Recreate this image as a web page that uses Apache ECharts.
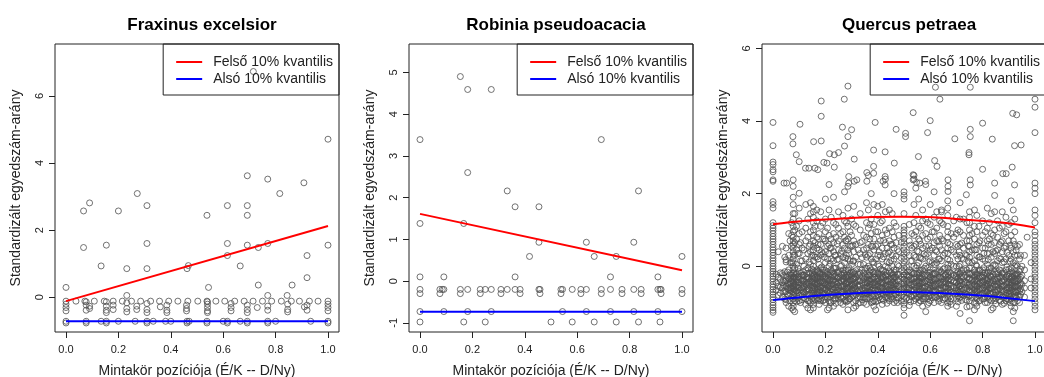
<!DOCTYPE html>
<html>
<head>
<meta charset="utf-8">
<script src="https://cdn.jsdelivr.net/npm/echarts@6/dist/echarts.min.js"></script>
<style>html,body{margin:0;padding:0;background:#fff;}#c{width:1044px;height:377px;}</style>
</head>
<body>
<div id="c"></div>
<script>
// ---------- DATA ----------
const titles = ['Fraxinus excelsior', 'Robinia pseudoacacia', 'Quercus petraea'];
const xAxisTitle = 'Mintakör pozíciója (É/K -- D/Ny)';
const yAxisTitle = 'Standardizált egyedszám-arány';
const legendNames = ['Felső 10% kvantilis', 'Alsó 10% kvantilis'];
const xTicks = [0, 0.2, 0.4, 0.6, 0.8, 1.0];
const fxYTicks = [0, 2, 4, 6];
const rpYTicks = [-1, 0, 1, 2, 3, 4, 5];
const qpYTicks = [0, 2, 4, 6];

// Fraxinus excelsior points
const fxPoints = [
 [0.715,6.73],[1.0,4.71],[0.692,3.62],[0.77,3.52],[0.908,3.41],[0.272,3.09],[0.816,3.09],[0.09,2.81],
 [0.309,2.73],[0.616,2.73],[0.692,2.73],[0.067,2.57],[0.2,2.57],[0.538,2.44],[0.692,2.44],[0.067,1.48],
 [0.154,1.55],[0.309,1.6],[0.616,1.6],[0.692,1.55],[0.734,1.48],[0.77,1.6],[1.0,1.55],[0.134,0.93],
 [0.616,1.24],[0.92,1.24],[0.232,0.85],[0.309,0.85],[0.462,0.85],[0.467,0.94],[0.665,0.93],[0.92,0.58],
 [0.734,0.36],[0.863,0.36],[0.0,0.29],[0.544,0.29],[0.232,0.05],[0.77,0.05],[0.844,0.05],
 [0,-0.12],[0.038,-0.12],[0.072,-0.12],[0.108,-0.12],[0.146,-0.12],[0.18,-0.12],[0.215,-0.12],[0.25,-0.12],
 [0.285,-0.12],[0.323,-0.12],[0.357,-0.12],[0.392,-0.12],[0.427,-0.12],[0.465,-0.12],[0.503,-0.12],[0.538,-0.12],
 [0.572,-0.12],[0.606,-0.12],[0.644,-0.12],[0.68,-0.12],[0.714,-0.12],[0.75,-0.12],[0.785,-0.12],[0.822,-0.12],
 [0.86,-0.12],[0.891,-0.12],[0.929,-0.12],[0.962,-0.12],[1.0,-0.12],
 [0,-0.21],[0,-0.31],[0,-0.41],[0.077,-0.14],[0.077,-0.24],[0.077,-0.39],[0.09,-0.27],[0.09,-0.34],
 [0.154,-0.14],[0.154,-0.27],[0.154,-0.39],[0.154,-0.46],[0.18,-0.24],[0.18,-0.37],[0.232,-0.17],[0.232,-0.34],
 [0.232,-0.44],[0.27,-0.27],[0.27,-0.37],[0.309,-0.19],[0.309,-0.37],[0.309,-0.46],[0.36,-0.29],[0.385,-0.24],
 [0.385,-0.39],[0.385,-0.46],[0.46,-0.24],[0.46,-0.34],[0.46,-0.41],[0.54,-0.14],[0.54,-0.21],[0.54,-0.31],
 [0.54,-0.41],[0.54,-0.46],[0.63,-0.19],[0.63,-0.31],[0.63,-0.41],[0.692,-0.24],[0.692,-0.37],[0.692,-0.46],
 [0.73,-0.31],[0.77,-0.27],[0.77,-0.39],[0.846,-0.21],[0.846,-0.37],[0.846,-0.44],[0.91,-0.29],[0.92,-0.24],
 [0.92,-0.39],[1.0,-0.21],[1.0,-0.31],[1.0,-0.41],
 [0,-0.72],[0.077,-0.72],[0.134,-0.72],[0.154,-0.72],[0.2,-0.72],[0.264,-0.72],[0.309,-0.72],[0.333,-0.72],
 [0.38,-0.72],[0.4,-0.72],[0.462,-0.72],[0.47,-0.72],[0.538,-0.72],[0.6,-0.72],[0.616,-0.72],[0.665,-0.72],
 [0.692,-0.72],[0.77,-0.72],[0.8,-0.72],[0.934,-0.72],[1.0,-0.72],
 [0,-0.77],[0.077,-0.77],[0.154,-0.77],[0.309,-0.77],[0.462,-0.77],[0.538,-0.77],[0.616,-0.77],[0.692,-0.77],
 [0.77,-0.77],[1.0,-0.77]
];
const fxUpper = [[0, -0.12], [1, 2.12]];
const fxLower = [[0, -0.72], [1, -0.72]];

// Robinia pseudoacacia points
const rpPoints = [
 [0.154,4.9],[0.182,4.59],[0.272,4.59],[0,3.39],[0.692,3.39],[0.182,2.6],[0.333,2.16],[0.834,2.16],
 [0.363,1.78],[0.454,1.78],[0,1.38],[0.167,1.38],[0.454,0.93],[0.635,0.93],[0.816,0.93],[0.418,0.59],
 [0.665,0.59],[0.749,0.59],[1,0.59],[0,0.1],[0.091,0.1],[0.363,0.1],[0.727,0.1],[0.908,0.1],
 [0,-0.2],[0,-0.3],[0.076,-0.2],[0.076,-0.3],[0.154,-0.2],[0.154,-0.3],[0.23,-0.2],[0.23,-0.3],
 [0.309,-0.2],[0.309,-0.3],[0.382,-0.2],[0.382,-0.3],[0.458,-0.2],[0.458,-0.3],[0.538,-0.2],[0.538,-0.3],
 [0.614,-0.2],[0.614,-0.3],[0.692,-0.2],[0.692,-0.3],[0.771,-0.2],[0.771,-0.3],[0.844,-0.2],[0.844,-0.3],
 [0.92,-0.2],[0.92,-0.3],[1,-0.2],[1,-0.3],
 [0.085,-0.2],[0.091,-0.2],[0.182,-0.2],[0.249,-0.2],[0.272,-0.2],[0.333,-0.2],[0.363,-0.2],[0.454,-0.2],
 [0.544,-0.2],[0.581,-0.2],[0.635,-0.2],[0.727,-0.2],[0.816,-0.2],[0.908,-0.2],[0.916,-0.2],
 [0,-0.73],[0.091,-0.73],[0.182,-0.73],[0.272,-0.73],[0.544,-0.73],[0.635,-0.73],[0.727,-0.73],[0.816,-0.73],
 [0.908,-0.73],[1,-0.73],
 [0,-0.98],[0.167,-0.98],[0.249,-0.98],[0.5,-0.98],[0.581,-0.98],[0.665,-0.98],[0.749,-0.98],[0.834,-0.98],[0.916,-0.98]
];
const rpUpper = [[0, 1.61], [1, 0.26]];
const rpLower = [[0, -0.735], [1, -0.735]];

// Quercus petraea: high outliers
const qpHigh = [
 [0.286,4.96],[0.272,4.6],[0.184,4.55],[0.184,4.13],[0,3.96],[0.103,3.91],[0.265,3.83],[0.3,3.76],
 [0.39,3.96],[0.535,4.23],[0.6,4.01],[0.637,4.6],[0.62,4.93],[0.753,4.93],[0.506,3.66],[0.506,3.57],
 [0.47,3.77],[0.59,3.68],[0.694,3.51],[0.753,3.77],[0.753,3.57],[0.8,3.94],[0.837,3.5],[0.915,4.21],
 [0.93,4.17],[1.0,4.6],[1.0,4.38],[1.0,3.68],[0,3.32],[0.076,3.57],[0.076,3.37],[0.089,3.07],[0.1,2.88],
 [0.155,3.43],[0.184,3.45],[0.273,3.31],[0.286,3.57],[0.216,3.1],[0.234,3.07],[0.25,3.13],[0.31,2.95],
 [0.384,3.2],[0.428,3.15],[0.555,3.02],[0.617,2.91],[0.626,2.75],[0.748,3.13],[0.748,3.07],[0.8,2.67],
 [0.922,3.32],[0.947,3.34],[0.877,2.55],[0.913,2.73],[0,2.87],[0,2.8],[0,2.66],[0,2.6],[0,2.38],[0,2.34],
 [0.042,2.29],[0.052,2.29],[0.077,2.38],[0.077,2.2],[0.194,2.86],[0.206,2.84],[0.124,2.7],[0.137,2.7],
 [0.16,2.7],[0.171,2.66],[0.234,2.73],[0.289,2.47],[0.289,2.29],[0.31,2.34],[0.32,2.38],[0.358,2.58],
 [0.358,2.34],[0.384,2.75],[0.384,2.56],[0.42,2.34],[0.428,2.47],[0.428,2.24],[0.463,2.84],[0.535,2.52],
 [0.535,2.38],[0.548,2.31],[0.56,2.29],[0.582,2.34],[0.668,2.38],[0.668,2.2],[0.668,2.06],[0.753,2.38],
 [0.753,2.24],[0.738,1.97],[0.846,2.29],[0.89,2.55],[0.922,2.24],[1.0,2.29],[1.0,2.15]
];
// Quercus petraea: columns of points (x position, then y values read per column)
const qpColX = [0, 0.05, 0.071, 0.077, 0.083, 0.1, 0.125, 0.143, 0.154, 0.167, 0.182, 0.2, 0.214, 0.222,
 0.231, 0.25, 0.267, 0.273, 0.286, 0.3, 0.308, 0.333, 0.357, 0.364, 0.375, 0.385, 0.4, 0.417, 0.429, 0.444,
 0.455, 0.462, 0.5, 0.538, 0.545, 0.556, 0.571, 0.583, 0.6, 0.615, 0.625, 0.636, 0.643, 0.667, 0.7, 0.714,
 0.727, 0.75, 0.769, 0.778, 0.8, 0.818, 0.833, 0.846, 0.857, 0.875, 0.889, 0.909, 0.917, 0.923, 0.933,
 0.95, 0.97, 1.0];
const qpColY = [
 [1.78,1.7,1.6,1.2,1.12,1.05,0.98,0.9,0.82,0.75,0.68,0.6,0.52,0.45,0.38,0.3,0.22,0.15,0.08,0.0,-0.07,-0.14,-0.21,-0.28,-0.35,-0.42,-0.5,-0.57,-0.64,-0.71,-0.78,-0.85,-0.92,-1.0,-1.07,-1.14,-1.21,-1.27],
 [0.5,0.18,0.12,-0.27,-0.4,-0.55,-0.7,-0.92,-1.0],
 [1.2,0.85,0.55,0.1,-0.25,-0.4,-0.6,-0.85,-1.15],
 [1.9,1.7,1.45,1.3,1.1,0.95,0.8,0.7,0.6,0.5,0.4,0.3,0.2,0.1,0.0,-0.1,-0.2,-0.3,-0.35,-0.45,-0.55,-0.62,-0.7,-0.8,-0.9,-1.0,-1.1,-1.2],
 [1.45,1.0,0.65,0.3,-0.05,-0.3,-0.5,-0.65,-0.95,-1.25],
 [2.01,1.6,1.25,0.9,0.6,0.35,-0.15,-0.3,-0.45,-0.6,-0.8,-0.95],
 [1.7,1.05,0.7,0.2,-0.1,-0.35,-0.5,-0.7,-0.9,-1.05],
 [1.75,1.45,0.95,0.6,0.4,0.05,-0.2,-0.4,-0.55,-0.75,-1.0,-1.2],
 [1.65,1.5,1.35,1.2,1.0,0.85,0.7,0.55,0.45,0.3,0.15,0.0,-0.12,-0.25,-0.35,-0.45,-0.55,-0.65,-0.75,-0.85,-0.95,-1.05,-1.15],
 [1.55,1.25,0.8,0.5,0.25,-0.1,-0.3,-0.5,-0.7,-0.88],
 [1.5,1.1,0.6,0.3,-0.05,-0.3,-0.45,-0.6,-0.8,-0.95],
 [1.85,1.3,0.95,0.7,0.4,0.1,-0.2,-0.35,-0.5,-0.65,-0.85,-1.0],
 [2.25,1.55,0.85,0.6,0.35,0.0,-0.25,-0.4,-0.55,-0.75,-0.95,-1.15],
 [1.35,0.75,0.5,0.2,-0.1,-0.3,-0.5,-0.62,-0.78,-1.0],
 [1.9,1.2,0.9,0.65,0.4,0.15,-0.05,-0.2,-0.38,-0.5,-0.65,-0.8,-0.95,-1.1],
 [1.5,1.05,0.7,0.45,0.2,-0.15,-0.3,-0.45,-0.6,-0.8,-0.9],
 [1.4,0.95,0.6,0.25,-0.1,-0.35,-0.55,-0.7,-0.85,-1.05],
 [2.05,1.25,0.8,0.5,0.1,-0.2,-0.4,-0.55,-0.75,-0.95],
 [2.2,1.6,1.1,0.75,0.45,0.2,-0.1,-0.3,-0.45,-0.6,-0.75,-0.95,-1.2],
 [1.3,0.85,0.55,0.05,-0.25,-0.5,-0.65,-0.85],
 [1.65,1.15,0.7,0.4,0.15,-0.15,-0.35,-0.5,-0.6,-0.8,-1.0,-1.15],
 [1.45,1.0,0.65,0.35,0.05,-0.2,-0.4,-0.55,-0.7,-0.85,-1.0],
 [1.75,1.2,0.8,0.5,0.25,-0.05,-0.3,-0.45,-0.6,-0.75,-0.9,-1.05],
 [2.5,1.55,1.05,0.6,0.3,0.0,-0.25,-0.4,-0.55,-0.7,-0.85],
 [2.0,1.3,0.9,0.55,0.2,-0.1,-0.35,-0.5,-0.65,-0.8,-1.0],
 [1.7,1.15,0.75,0.45,0.1,-0.15,-0.3,-0.45,-0.6,-0.75,-0.95,-1.1],
 [1.65,1.4,0.95,0.6,0.3,0.05,-0.2,-0.35,-0.5,-0.65,-0.8,-0.95],
 [1.7,1.25,0.85,0.5,0.2,-0.1,-0.3,-0.45,-0.6,-0.75,-0.9,-1.05],
 [2.4,1.5,1.0,0.65,0.35,0.0,-0.25,-0.4,-0.55,-0.7,-0.85],
 [1.55,1.05,0.7,0.4,0.1,-0.15,-0.35,-0.5,-0.65,-0.8,-0.95],
 [1.45,0.95,0.6,0.3,0.0,-0.25,-0.45,-0.6,-0.75,-0.9],
 [2.0,1.2,0.8,0.5,0.2,-0.1,-0.3,-0.5,-0.65,-0.8,-1.0],
 [2.05,1.95,1.85,1.45,1.1,1.0,0.92,0.85,0.75,0.65,0.55,0.45,0.35,0.25,0.15,0.05,-0.05,-0.15,-0.25,-0.35,-0.45,-0.55,-0.65,-0.75,-0.85,-0.95,-1.05,-1.15,-1.35],
 [2.5,2.4,1.7,1.2,0.85,0.55,0.3,0.0,-0.2,-0.35,-0.5,-0.65,-0.8,-0.95],
 [2.15,1.4,0.95,0.6,0.25,-0.05,-0.3,-0.45,-0.6,-0.75,-0.9],
 [1.85,1.1,0.75,0.4,0.1,-0.2,-0.4,-0.55,-0.7,-0.85,-1.0],
 [1.55,1.25,0.85,0.5,0.2,-0.1,-0.3,-0.45,-0.6,-0.75,-0.9,-1.1],
 [2.25,1.3,0.9,0.55,0.3,0.0,-0.25,-0.4,-0.55,-0.7,-0.85,-1.25],
 [1.7,1.15,0.8,0.45,0.15,-0.1,-0.3,-0.45,-0.6,-0.8,-0.95],
 [2.05,1.35,0.95,0.65,0.3,0.05,-0.2,-0.35,-0.5,-0.65,-0.8,-1.0],
 [1.5,1.05,0.7,0.4,0.1,-0.15,-0.35,-0.5,-0.7,-0.85],
 [1.25,0.85,0.55,0.2,-0.1,-0.3,-0.45,-0.6,-0.75,-0.9],
 [1.55,1.5,1.2,0.75,0.45,0.15,-0.15,-0.35,-0.5,-0.65,-0.8,-1.0],
 [1.8,1.6,1.4,1.1,0.95,0.8,0.65,0.5,0.35,0.2,0.05,-0.05,-0.2,-0.3,-0.4,-0.5,-0.6,-0.7,-0.8,-0.9,-1.0,-1.1],
 [1.35,0.9,0.6,0.3,0.0,-0.25,-0.45,-0.6,-0.75,-0.9,-1.1],
 [1.75,1.3,0.95,0.6,0.3,0.05,-0.2,-0.4,-0.55,-0.7,-0.85,-1.3],
 [1.3,0.85,0.5,0.2,-0.1,-0.3,-0.5,-0.65,-0.8],
 [1.5,1.35,1.2,1.0,0.85,0.7,0.55,0.4,0.25,0.1,-0.05,-0.2,-0.35,-0.5,-0.65,-0.8,-0.95,-1.1,-1.5],
 [1.55,1.1,0.75,0.45,0.15,-0.1,-0.3,-0.5,-0.65,-0.8,-1.0,-1.2],
 [1.4,0.95,0.6,0.3,0.0,-0.25,-0.4,-0.55,-0.7,-0.9,-1.1],
 [1.25,0.85,0.5,0.2,-0.1,-0.3,-0.45,-0.6,-0.75,-0.9],
 [1.6,1.05,0.7,0.35,0.05,-0.2,-0.4,-0.55,-0.7,-0.85,-1.0],
 [1.45,0.9,0.6,0.25,-0.05,-0.3,-0.45,-0.6,-0.75,-0.95,-1.2],
 [1.95,1.5,1.0,0.65,0.35,0.05,-0.15,-0.35,-0.5,-0.65,-0.8,-0.95],
 [1.25,0.8,0.45,0.15,-0.15,-0.35,-0.5,-0.65,-0.85],
 [1.5,1.1,0.7,0.4,0.1,-0.2,-0.4,-0.55,-0.7,-0.85,-1.05],
 [1.35,0.95,0.55,0.2,-0.1,-0.3,-0.5,-0.65,-0.8,-0.95],
 [1.8,1.2,0.85,0.5,0.2,-0.05,-0.3,-0.45,-0.6,-0.75,-0.9,-1.1],
 [1.55,0.7,0.4,0.1,-0.2,-0.4,-0.55,-0.7,-0.85,-1.0,-1.25,-1.5],
 [1.3,0.95,0.6,0.3,0.0,-0.25,-0.4,-0.55,-0.7,-0.85,-1.0,-1.15],
 [0.55,0.3,0.0,-0.2,-0.35,-0.5,-0.65,-0.8,-0.95],
 [0.0,-0.25,-0.5,-0.7],
 [0.8],
 [2.0,1.55,1.4,1.2,0.95,0.85,0.7,0.6,0.5,0.4,0.3,0.2,0.1,0.0,-0.1,-0.2,-0.3,-0.4,-0.5,-0.6,-0.7,-0.8,-0.9,-1.0,-1.1,-1.2]
];
// Quercus petraea: further columns between the ones above (dense band)
const qpColX2 = [0.036, 0.06, 0.09, 0.111, 0.133, 0.16, 0.176, 0.19, 0.208, 0.24, 0.258, 0.28, 0.294, 0.316,
 0.346, 0.37, 0.392, 0.41, 0.435, 0.47, 0.48, 0.52, 0.53, 0.564, 0.59, 0.608, 0.65, 0.68, 0.69, 0.706, 0.74,
 0.76, 0.786, 0.81, 0.826, 0.84, 0.864, 0.882, 0.9, 0.941, 0.96];
const qpColY2 = [
 [0.55,-0.2,-0.45,-0.6,-0.85],
 [0.9,0.3,-0.1,-0.35,-0.5,-0.65,-0.8,-1.1],
 [1.1,0.75,0.45,0.05,-0.2,-0.38,-0.52,-0.68,-0.82,-0.98],
 [0.95,0.5,0.15,-0.25,-0.4,-0.6,-0.75,-0.92],
 [1.3,0.8,0.35,-0.05,-0.3,-0.45,-0.62,-0.78,-0.95,-1.15],
 [1.1,0.65,0.25,-0.15,-0.32,-0.48,-0.62,-0.8,-0.92],
 [0.9,0.45,0.05,-0.2,-0.4,-0.55,-0.72,-0.9,-1.05],
 [1.2,0.75,0.35,-0.1,-0.28,-0.45,-0.6,-0.78,-0.95],
 [1.05,0.55,0.2,-0.15,-0.35,-0.52,-0.68,-0.85,-1.2],
 [1.15,0.8,0.3,-0.05,-0.25,-0.42,-0.58,-0.72,-0.88,-1.02],
 [0.9,0.35,0.0,-0.22,-0.4,-0.55,-0.7,-0.85,-1.0],
 [1.2,0.7,0.3,-0.1,-0.3,-0.48,-0.62,-0.8,-0.98],
 [0.95,0.55,0.15,-0.2,-0.38,-0.55,-0.7,-0.9],
 [1.1,0.6,0.25,-0.12,-0.3,-0.45,-0.62,-0.78,-0.95,-1.1],
 [0.85,0.45,0.05,-0.18,-0.36,-0.52,-0.68,-0.85,-1.0],
 [1.15,0.75,0.35,-0.05,-0.25,-0.42,-0.58,-0.72,-0.9],
 [0.95,0.55,0.2,-0.15,-0.35,-0.5,-0.66,-0.82,-0.98,-1.2],
 [1.2,0.7,0.3,-0.08,-0.28,-0.46,-0.6,-0.76,-0.92],
 [0.9,0.5,0.12,-0.2,-0.38,-0.55,-0.7,-0.86,-1.02],
 [1.1,0.65,0.28,-0.1,-0.3,-0.48,-0.62,-0.78,-0.94],
 [0.85,0.4,0.0,-0.22,-0.4,-0.56,-0.72,-0.88],
 [1.15,0.7,0.3,-0.1,-0.28,-0.45,-0.6,-0.76,-0.92,-1.08],
 [0.9,0.5,0.15,-0.18,-0.36,-0.52,-0.68,-0.84],
 [1.05,0.6,0.22,-0.12,-0.32,-0.48,-0.64,-0.8,-0.96],
 [1.2,0.75,0.35,-0.05,-0.25,-0.42,-0.58,-0.74,-0.9,-1.05],
 [0.95,0.5,0.1,-0.2,-0.38,-0.54,-0.7,-0.86],
 [1.15,0.7,0.3,-0.08,-0.28,-0.44,-0.6,-0.76,-0.92],
 [0.9,0.45,0.05,-0.2,-0.38,-0.55,-0.72,-0.9,-1.05],
 [1.25,0.8,0.4,0.0,-0.25,-0.42,-0.58,-0.74],
 [1.0,0.55,0.2,-0.15,-0.33,-0.5,-0.66,-0.82,-0.98],
 [1.2,0.7,0.3,-0.1,-0.3,-0.46,-0.62,-0.78,-0.94,-1.12],
 [0.9,0.45,0.1,-0.2,-0.38,-0.55,-0.7,-0.86],
 [1.1,0.65,0.25,-0.12,-0.32,-0.48,-0.64,-0.8,-0.96],
 [0.95,0.5,0.15,-0.18,-0.36,-0.52,-0.68,-0.84,-1.0],
 [1.2,0.75,0.35,-0.05,-0.26,-0.44,-0.6,-0.76,-0.92],
 [0.85,0.4,0.02,-0.22,-0.4,-0.56,-0.72,-0.88,-1.15],
 [1.05,0.6,0.22,-0.1,-0.3,-0.46,-0.62,-0.78,-0.94],
 [0.9,0.5,0.12,-0.2,-0.38,-0.54,-0.7,-0.86,-1.02],
 [1.15,0.7,0.3,-0.08,-0.28,-0.44,-0.6,-0.76,-0.92],
 [0.6,0.2,-0.15,-0.35,-0.52,-0.68,-0.84,-1.0],
 [0.3,-0.1,-0.4,-0.6,-0.85]
];
// Quercus petraea: a third set of columns
const qpColX3 = [0.02, 0.045, 0.065, 0.095, 0.105, 0.118, 0.138, 0.148, 0.172, 0.186, 0.196, 0.218, 0.236,
 0.245, 0.262, 0.277, 0.29, 0.305, 0.325, 0.34, 0.352, 0.38, 0.405, 0.422, 0.44, 0.45, 0.475, 0.49, 0.51,
 0.525, 0.55, 0.56, 0.577, 0.595, 0.62, 0.632, 0.656, 0.675, 0.71, 0.72, 0.735, 0.745, 0.775, 0.79, 0.805,
 0.822, 0.85, 0.87, 0.893, 0.905, 0.928, 0.945, 0.985];
const qpColY3 = [
 [0.4,-0.3,-0.55,-0.8],
 [0.25,-0.15,-0.42,-0.7,-0.9],
 [0.7,0.1,-0.25,-0.48,-0.6,-0.75,-0.95],
 [0.35,-0.05,-0.28,-0.44,-0.58,-0.72,-0.88],
 [0.65,0.15,-0.2,-0.36,-0.52,-0.66,-0.8,-1.0],
 [0.45,0.0,-0.25,-0.42,-0.56,-0.7,-0.86],
 [0.55,0.12,-0.18,-0.34,-0.5,-0.64,-0.8,-0.96],
 [0.3,-0.08,-0.26,-0.44,-0.6,-0.74,-0.9],
 [0.6,0.2,-0.14,-0.32,-0.48,-0.64,-0.78,-0.94],
 [0.4,-0.02,-0.22,-0.4,-0.56,-0.7,-0.86],
 [0.75,0.25,-0.1,-0.3,-0.46,-0.6,-0.76,-0.92],
 [0.5,0.08,-0.2,-0.38,-0.54,-0.68,-0.84,-1.0],
 [0.3,-0.06,-0.28,-0.44,-0.6,-0.74,-0.9],
 [0.62,0.18,-0.16,-0.34,-0.5,-0.66,-0.8],
 [0.42,0.02,-0.24,-0.4,-0.56,-0.72,-0.88],
 [0.7,0.22,-0.12,-0.3,-0.48,-0.62,-0.78,-0.94],
 [0.35,-0.04,-0.26,-0.42,-0.58,-0.74,-0.9],
 [0.58,0.14,-0.18,-0.36,-0.52,-0.66,-0.82],
 [0.45,0.06,-0.22,-0.38,-0.54,-0.7,-0.86,-1.02],
 [0.68,0.24,-0.1,-0.28,-0.46,-0.62,-0.76,-0.92],
 [0.32,-0.06,-0.26,-0.44,-0.6,-0.74,-0.88],
 [0.55,0.12,-0.16,-0.34,-0.5,-0.66,-0.82,-0.98],
 [0.4,0.0,-0.22,-0.4,-0.56,-0.7,-0.86],
 [0.72,0.26,-0.12,-0.3,-0.46,-0.62,-0.78,-0.94],
 [0.36,-0.04,-0.26,-0.42,-0.58,-0.74,-0.9],
 [0.6,0.16,-0.18,-0.36,-0.52,-0.68,-0.84],
 [0.46,0.04,-0.22,-0.38,-0.54,-0.7,-0.86,-1.0],
 [0.66,0.22,-0.12,-0.3,-0.48,-0.64,-0.8,-0.96],
 [0.38,-0.02,-0.24,-0.42,-0.58,-0.72,-0.88],
 [0.58,0.14,-0.16,-0.34,-0.5,-0.66,-0.82,-0.98],
 [0.42,0.02,-0.22,-0.4,-0.56,-0.7,-0.86],
 [0.7,0.24,-0.1,-0.3,-0.46,-0.62,-0.78,-0.94],
 [0.34,-0.06,-0.26,-0.44,-0.6,-0.74,-0.9],
 [0.56,0.12,-0.18,-0.36,-0.52,-0.68,-0.84,-1.0],
 [0.44,0.04,-0.2,-0.38,-0.54,-0.7,-0.86],
 [0.68,0.2,-0.14,-0.32,-0.48,-0.64,-0.8,-0.96],
 [0.36,-0.04,-0.24,-0.42,-0.58,-0.72,-0.88],
 [0.6,0.16,-0.16,-0.34,-0.5,-0.66,-0.82,-0.98],
 [0.4,0.0,-0.22,-0.4,-0.56,-0.72,-0.88],
 [0.64,0.22,-0.12,-0.3,-0.48,-0.62,-0.78,-0.94],
 [0.32,-0.06,-0.26,-0.44,-0.6,-0.76,-0.92],
 [0.56,0.14,-0.18,-0.36,-0.52,-0.68,-0.84],
 [0.46,0.04,-0.2,-0.38,-0.54,-0.7,-0.86,-1.02],
 [0.7,0.26,-0.1,-0.28,-0.46,-0.62,-0.78,-0.94],
 [0.36,-0.04,-0.24,-0.42,-0.58,-0.74,-0.9],
 [0.6,0.18,-0.16,-0.34,-0.5,-0.66,-0.82],
 [0.42,0.02,-0.22,-0.4,-0.56,-0.72,-0.88,-1.04],
 [0.66,0.2,-0.12,-0.3,-0.48,-0.64,-0.8,-0.96],
 [0.38,-0.02,-0.26,-0.44,-0.6,-0.74,-0.9],
 [0.58,0.14,-0.18,-0.36,-0.52,-0.68,-0.84,-1.0],
 [0.44,0.04,-0.22,-0.4,-0.56,-0.72,-0.88],
 [0.3,-0.08,-0.3,-0.46,-0.62,-0.78],
 [0.1,-0.35,-0.6]
];
// Quercus petraea: a fourth set, the darkest core of the band (about -0.15 .. -0.8)
const qpColX4 = [0.012, 0.028, 0.04, 0.055, 0.068, 0.08, 0.088, 0.115, 0.128, 0.15, 0.158, 0.17, 0.18, 0.2,
 0.211, 0.226, 0.25, 0.27, 0.283, 0.3, 0.312, 0.33, 0.36, 0.368, 0.388, 0.4, 0.415, 0.43, 0.458, 0.465, 0.5,
 0.515, 0.54, 0.558, 0.57, 0.6, 0.612, 0.64, 0.66, 0.67, 0.7, 0.715, 0.75, 0.77, 0.78, 0.8, 0.815, 0.83,
 0.857, 0.875, 0.9, 0.912, 0.925, 0.935];
const qpColY4 = [
 [-0.22,-0.45,-0.66],
 [-0.18,-0.37,-0.58,-0.74],
 [-0.25,-0.4,-0.52,-0.69],
 [-0.16,-0.3,-0.47,-0.61,-0.77],
 [-0.2,-0.33,-0.44,-0.56,-0.68],
 [-0.18,-0.29,-0.41,-0.53,-0.62,-0.74],
 [-0.22,-0.34,-0.45,-0.57,-0.68],
 [-0.15,-0.26,-0.38,-0.49,-0.6,-0.71],
 [-0.2,-0.31,-0.43,-0.55,-0.66,-0.77],
 [-0.18,-0.3,-0.42,-0.54,-0.65],
 [-0.23,-0.35,-0.47,-0.58,-0.7],
 [-0.16,-0.27,-0.39,-0.5,-0.61,-0.73],
 [-0.21,-0.33,-0.44,-0.56,-0.67],
 [-0.17,-0.28,-0.4,-0.52,-0.63,-0.75],
 [-0.22,-0.34,-0.46,-0.57,-0.69],
 [-0.15,-0.27,-0.39,-0.5,-0.62,-0.72],
 [-0.2,-0.32,-0.43,-0.55,-0.66,-0.78],
 [-0.18,-0.3,-0.41,-0.53,-0.64],
 [-0.24,-0.36,-0.47,-0.59,-0.7],
 [-0.16,-0.28,-0.4,-0.51,-0.63,-0.74],
 [-0.21,-0.33,-0.45,-0.56,-0.68],
 [-0.17,-0.29,-0.41,-0.52,-0.64,-0.76],
 [-0.23,-0.35,-0.46,-0.58,-0.69],
 [-0.15,-0.26,-0.38,-0.5,-0.61,-0.72],
 [-0.2,-0.31,-0.43,-0.54,-0.66],
 [-0.18,-0.3,-0.42,-0.53,-0.65,-0.77],
 [-0.22,-0.34,-0.45,-0.57,-0.68],
 [-0.16,-0.27,-0.39,-0.51,-0.62,-0.73],
 [-0.21,-0.33,-0.44,-0.56,-0.67],
 [-0.17,-0.29,-0.4,-0.52,-0.63,-0.75],
 [-0.24,-0.36,-0.48,-0.59,-0.71],
 [-0.15,-0.27,-0.38,-0.5,-0.62,-0.73],
 [-0.2,-0.32,-0.44,-0.55,-0.67],
 [-0.18,-0.29,-0.41,-0.53,-0.64,-0.76],
 [-0.22,-0.34,-0.46,-0.57,-0.69],
 [-0.16,-0.28,-0.39,-0.51,-0.62,-0.74],
 [-0.21,-0.33,-0.45,-0.56,-0.68],
 [-0.17,-0.3,-0.42,-0.53,-0.65,-0.77],
 [-0.23,-0.35,-0.47,-0.58,-0.7],
 [-0.15,-0.26,-0.38,-0.49,-0.61,-0.72],
 [-0.2,-0.31,-0.43,-0.55,-0.66],
 [-0.18,-0.3,-0.41,-0.53,-0.64,-0.76],
 [-0.22,-0.34,-0.46,-0.57,-0.69],
 [-0.16,-0.27,-0.39,-0.5,-0.62,-0.74],
 [-0.21,-0.33,-0.44,-0.56,-0.68],
 [-0.17,-0.29,-0.41,-0.52,-0.64,-0.76],
 [-0.24,-0.36,-0.47,-0.59,-0.71],
 [-0.15,-0.27,-0.39,-0.5,-0.62,-0.74],
 [-0.2,-0.32,-0.43,-0.55,-0.67,-0.79],
 [-0.18,-0.3,-0.42,-0.54,-0.66],
 [-0.22,-0.34,-0.46,-0.58,-0.7,-0.82],
 [-0.16,-0.28,-0.4,-0.52,-0.64],
 [-0.21,-0.33,-0.45,-0.57,-0.69,-0.81],
 [-0.25,-0.4,-0.55,-0.7]
];
const qpUpper = [[0,1.16],[0.105,1.24],[0.23,1.3],[0.358,1.35],[0.485,1.36],[0.61,1.35],[0.738,1.28],[0.865,1.21],[1.0,1.07]];
const qpLower = [[0,-0.93],[0.105,-0.85],[0.23,-0.78],[0.358,-0.73],[0.485,-0.71],[0.61,-0.73],[0.738,-0.78],[0.865,-0.85],[1.0,-0.96]];

// ---------- BUILD ----------
const qpPoints = qpHigh.slice();
[[qpColX, qpColY], [qpColX2, qpColY2], [qpColX3, qpColY3], [qpColX4, qpColY4]].forEach(([xs, ys]) =>
  xs.forEach((x, i) => ys[i].forEach(y => qpPoints.push([x, y]))));

const FONT = '"Liberation Sans", Arial, sans-serif';
const panels = [
  {left: 55,  title: titles[0], ymin: -1.04, ymax: 7.55, yt: fxYTicks, pts: fxPoints, up: fxUpper, lo: fxLower},
  {left: 409, title: titles[1], ymin: -1.22, ymax: 5.68, yt: rpYTicks, pts: rpPoints, up: rpUpper, lo: rpLower},
  {left: 762, title: titles[2], ymin: -1.81, ymax: 6.12, yt: qpYTicks, pts: qpPoints, up: qpUpper, lo: qpLower}
];
const W = 284, H = 288, TOP = 44;

const option = {
  backgroundColor: '#ffffff',
  animation: false,
  textStyle: {fontFamily: FONT},
  title: panels.map(p => ({
    text: p.title, left: p.left + W / 2, top: 12, textAlign: 'center',
    textStyle: {fontFamily: FONT, fontSize: 17, fontWeight: 'bold', color: '#000'}
  })),
  grid: panels.map(p => ({
    left: p.left, top: TOP, width: W, height: H, show: true, outerBoundsMode: 'none', containLabel: false,
    borderColor: '#222', borderWidth: 1, backgroundColor: 'transparent'
  })),
  xAxis: panels.map((p, i) => ({
    gridIndex: i, type: 'value', min: -0.042, max: 1.042, position: 'bottom',
    name: xAxisTitle, nameLocation: 'middle', nameGap: 32,
    nameTextStyle: {fontFamily: FONT, fontSize: 14, color: '#222'},
    axisLine: {show: false, onZero: false},
    axisTick: {show: true, inside: false, length: 6, customValues: xTicks, lineStyle: {color: '#222'}},
    axisLabel: {show: true, customValues: xTicks, margin: 12, fontSize: 11, color: '#222', fontFamily: FONT,
      formatter: v => Number(v).toFixed(1)},
    splitLine: {show: false}
  })),
  yAxis: panels.map((p, i) => ({
    gridIndex: i, type: 'value', min: p.ymin, max: p.ymax, position: 'left',
    name: yAxisTitle, nameLocation: 'middle', nameGap: 32, nameRotate: 90,
    nameTextStyle: {fontFamily: FONT, fontSize: 14, color: '#222'},
    axisLine: {show: false, onZero: false},
    axisTick: {show: true, inside: false, length: 6, customValues: p.yt, lineStyle: {color: '#222'}},
    axisLabel: {show: true, customValues: p.yt, rotate: 90, margin: 10, fontSize: 11, color: '#222', fontFamily: FONT},
    splitLine: {show: false}
  })),
  legend: panels.map((p, i) => ({
    orient: 'vertical', right: 1044 - (p.left + W), top: TOP,
    data: legendNames,
    icon: 'rect', itemWidth: 26, itemHeight: 2, itemGap: 3,
    padding: [11, 6, 9, 13],
    borderColor: '#222', borderWidth: 1, backgroundColor: 'transparent',
    textStyle: {fontFamily: FONT, fontSize: 14, color: '#222', padding: [0, 0, 0, 6]},
    selectedMode: false
  })),
  series: []
};
panels.forEach((p, i) => {
  option.series.push({
    type: 'scatter', xAxisIndex: i, yAxisIndex: i, data: p.pts, symbol: 'circle', symbolSize: 6,
    large: false, itemStyle: {color: 'rgba(0,0,0,0)', borderColor: '#505050', borderWidth: 1}, z: 3, silent: true
  });
  option.series.push({
    type: 'line', name: legendNames[0], xAxisIndex: i, yAxisIndex: i, data: p.up, showSymbol: false,
    smooth: i === 2 ? 0.3 : false, lineStyle: {color: '#ff0000', width: 2}, itemStyle: {color: '#ff0000'}, z: 4
  });
  option.series.push({
    type: 'line', name: legendNames[1], xAxisIndex: i, yAxisIndex: i, data: p.lo, showSymbol: false,
    smooth: i === 2 ? 0.3 : false, lineStyle: {color: '#0000ff', width: 2}, itemStyle: {color: '#0000ff'}, z: 4
  });
});

const chart = echarts.init(document.getElementById('c'), null, {renderer: 'canvas'});
chart.setOption(option);
</script>
</body>
</html>
